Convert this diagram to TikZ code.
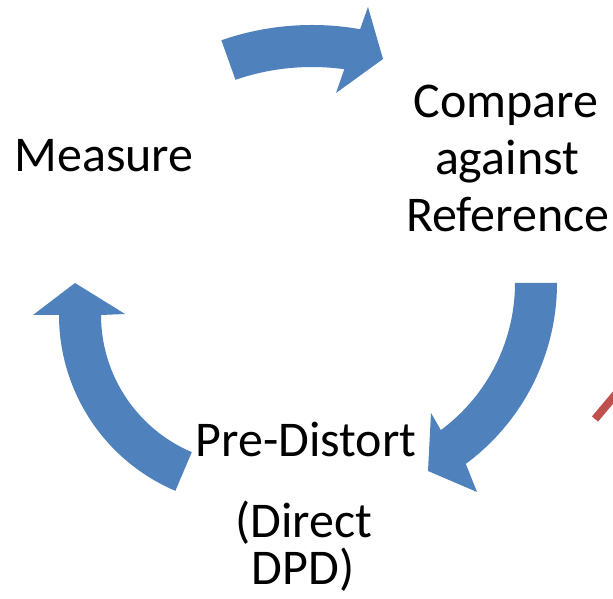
\documentclass[tikz,border=0pt]{standalone}
\usepackage{fontspec}
\setmainfont{Carlito}
\usetikzlibrary{calc}
\definecolor{cycleblue}{HTML}{4F81BD}
\definecolor{cyclered}{HTML}{C0504D}
\tikzset{
  cyclearrow/.style={fill=cycleblue, draw=none},
  lbl/.style={anchor=base, inner sep=0pt, outer sep=0pt, font=\fontsize{50}{60}\selectfont, text=black},
  redline/.style={draw=cyclered, line width=8pt}
}
\begin{document}
\begin{tikzpicture}[x=1pt,y=1pt]
\useasboundingbox (0,0) rectangle (613,599);
\fill[white] (0,0) rectangle (613,599);
\clip (0,0) rectangle (613,599);
% centres of the three arcs
\coordinate (C1) at (312,297);
\coordinate (C2) at (332,316);
\coordinate (C3) at (250,284);
% Arrow 1: Measure -> Compare
\fill[cyclearrow] ($(C1)+(109.1:277)$) arc[start angle=109.1, end angle=80, radius=277]
  -- (368,592) -- (383,540) -- (336,506)
  -- ($(C1)+(82.1:235)$) arc[start angle=82.1, end angle=109, radius=235] -- cycle;
% Arrow 2: Compare -> Pre-Distort
\fill[cyclearrow] ($(C2)+(0:225)$) arc[start angle=0, end angle=-53.5, radius=225]
  -- (477,107) -- (428,128) -- (431,186)
  -- ($(C2)+(-53.5:183)$) arc[start angle=-53.5, end angle=0, radius=183] -- cycle;
% Arrow 3: Pre-Distort -> Measure
\fill[cyclearrow] ($(C3)+(247:191)$) arc[start angle=247, end angle=180, radius=191]
  -- (33,284) -- (75,316) -- (125,285)
  -- ($(C3)+(180:149)$) arc[start angle=180, end angle=247, radius=149] -- cycle;
% labels
\node[lbl] (measure) at (104,427) {Measure};
\node[lbl] (cmp1) at (506,481) {Compare};
\node[lbl] (cmp2) at (507,424) {against};
\node[lbl] (cmp3) at (508,367) {Reference};
\node[lbl] (pre1) at (306,142) {Pre-Distort};
\node[lbl] (pre2) at (304,61) {(Direct};
\node[lbl] (pre3) at (303,14) {DPD)};
% red line at the right edge
\coordinate (r1) at (595,180);
\coordinate (r2) at (627,218);
\draw[redline] (r1) -- (r2);
\end{tikzpicture}
\end{document}
